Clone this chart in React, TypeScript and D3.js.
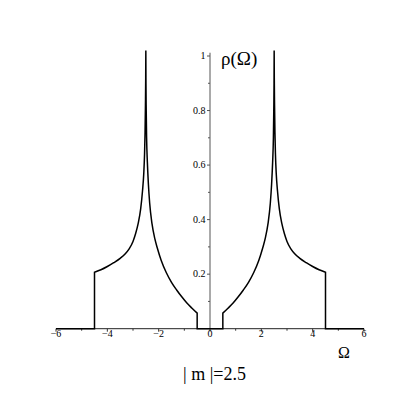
import React from 'react';
import * as d3 from 'd3';

// ---- data ----
const xTickValues = [-6, -5, -4, -3, -2, -1, 0, 1, 2, 3, 4, 5, 6];
const xTickLabels = [-6, -4, -2, 0, 2, 4, 6];
const yTickValues = [0.1, 0.2, 0.3, 0.4, 0.5, 0.6, 0.7, 0.8, 0.9, 1.0];
const yTickLabels = [0.2, 0.4, 0.6, 0.8, 1];

// rho(Omega) is symmetric: values given for |Omega|
// outer branch: from the outer band edge in to the singular peak
const outerOmega = [4.5, 4.25, 4.0, 3.75, 3.5, 3.3, 3.15, 3.0, 2.9, 2.8, 2.7, 2.63, 2.58, 2.55, 2.53, 2.515, 2.505, 2.5];
const outerRho = [0.207, 0.216, 0.228, 0.242, 0.258, 0.275, 0.293, 0.32, 0.348, 0.385, 0.44, 0.505, 0.57, 0.64, 0.72, 0.82, 0.92, 1.02];
// inner branch: from the peak in to the inner band edge
const innerOmega = [2.5, 2.495, 2.485, 2.47, 2.44, 2.4, 2.35, 2.26, 2.15, 2.05, 1.9, 1.7, 1.5, 1.3, 1.1, 0.9, 0.7, 0.5];
const innerRho = [1.02, 0.9, 0.8, 0.7, 0.61, 0.53, 0.46, 0.385, 0.33, 0.295, 0.25, 0.205, 0.17, 0.142, 0.117, 0.094, 0.075, 0.057];
const domainOmega: [number, number] = [-6, 6];
const massLabel = '| m |=2.5';

const FONT = '"Liberation Serif", "Times New Roman", Times, serif';

export default function App() {
  const x = d3.scaleLinear().domain(domainOmega).range([56, 364]);
  const y = d3.scaleLinear().domain([0, 1]).range([328.7, 56]);

  type P = [number, number];
  const lin = d3.line<P>().x(d => x(d[0])).y(d => y(d[1]));
  const mono = d3.line<P>().x(d => x(d[0])).y(d => y(d[1])).curve(d3.curveMonotoneX);

  const outerNeg: P[] = outerOmega.map((o, i) => [-o, outerRho[i]]);
  const innerNeg: P[] = innerOmega.map((o, i) => [-o, innerRho[i]]);
  const innerPos: P[] = innerOmega.map((o, i) => [o, innerRho[i]] as P).reverse();
  const outerPos: P[] = outerOmega.map((o, i) => [o, outerRho[i]] as P).reverse();
  const edgeOut = outerOmega[0];
  const edgeIn = innerOmega[innerOmega.length - 1];

  const cont = (s: string | null) => (s || '').replace(/^M/, 'L');
  const d =
    lin([[domainOmega[0], 0], [-edgeOut, 0]]) +
    cont(mono(outerNeg)) +
    cont(mono(innerNeg)) +
    cont(lin([[-edgeIn, 0], [edgeIn, 0]])) +
    cont(mono(innerPos)) +
    cont(mono(outerPos)) +
    cont(lin([[edgeOut, 0], [domainOmega[1], 0]]));

  const fmt = d3.format('');
  const x0 = x(0);
  const y0 = y(0);

  return (
    <svg width={415} height={415} style={{ position: 'absolute', left: 0, top: 0, background: '#fff' }}>
      {/* x axis */}
      <line x1={x(domainOmega[0])} x2={x(domainOmega[1])} y1={y0} y2={y0} stroke="#222" strokeWidth={1} />
      {xTickValues.map(t => (
        <line key={'xt' + t} x1={x(t)} x2={x(t)} y1={y0} y2={y0 + (xTickLabels.includes(t) ? 3 : 2)} stroke="#333" strokeWidth={1} />
      ))}
      {xTickLabels.map(t => (
        <text key={'xl' + t} x={x(t)} y={y0 + 8.5} fontSize={10} fontFamily={FONT} fill="#000" textAnchor="middle">
          {fmt(t)}
        </text>
      ))}
      {/* y axis */}
      <line x1={x0} x2={x0} y1={y0} y2={y(1.012)} stroke="#555" strokeWidth={1} />
      {yTickValues.map(t => (
        <line key={'yt' + t} x1={x0 - (yTickLabels.some(v => Math.abs(v - t) < 1e-9) ? 3 : 2)} x2={x0} y1={y(t)} y2={y(t)} stroke="#555" strokeWidth={1} />
      ))}
      {yTickLabels.map(t => (
        <text key={'yl' + t} x={x0 - 4.5} y={y(t) + 3.3} fontSize={10} fontFamily={FONT} fill="#000" textAnchor="end">
          {fmt(t)}
        </text>
      ))}
      {/* curve */}
      <path d={d} fill="none" stroke="#000" strokeWidth={1.5} strokeLinejoin="miter" />
      {/* labels */}
      <text x={221} y={65} fontSize={19} fontFamily={FONT} fill="#000">ρ(Ω)</text>
      <text x={344} y={358} fontSize={16} fontFamily={FONT} fill="#000" textAnchor="middle">Ω</text>
      <text x={214.5} y={380} fontSize={18} fontFamily={FONT} fill="#000" textAnchor="middle">{massLabel}</text>
    </svg>
  );
}
